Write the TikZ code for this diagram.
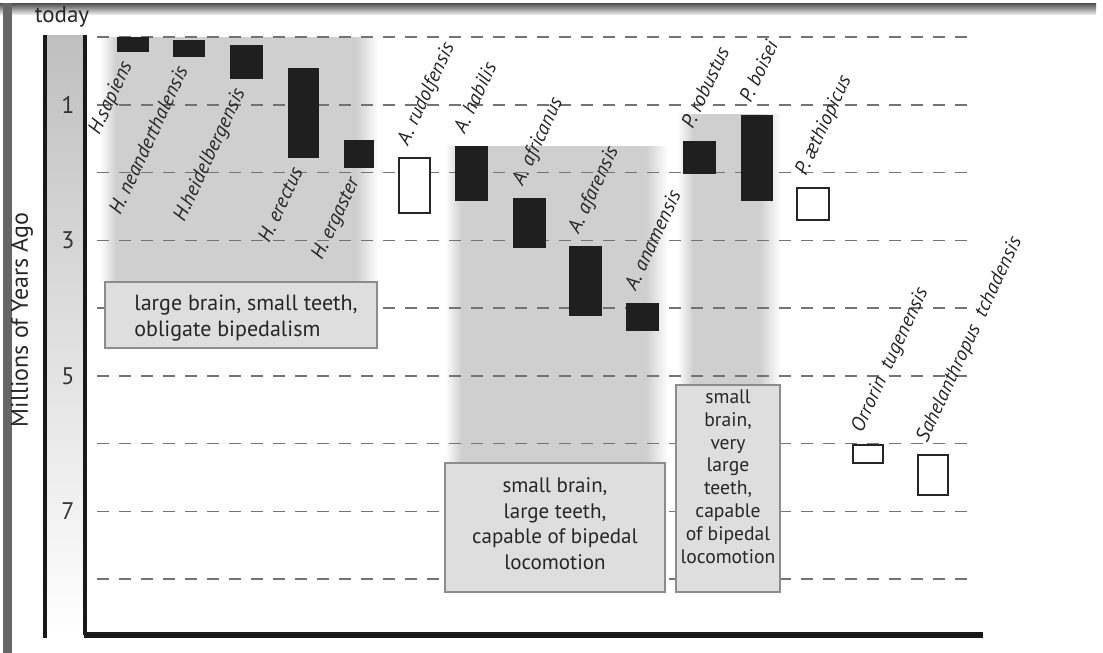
\documentclass[tikz,border=0pt]{standalone}
\usepackage{fontspec}
\setmainfont{PT Sans}
\usetikzlibrary{fit}

\colorlet{panelgray}{black!19}

\begin{document}
\begin{tikzpicture}
  [
  x=0.5pt, y=-0.5pt, line width=0.75pt,
  blackbar/.style={fill=black!88, draw=black!88, line width=0.4pt, inner sep=0pt},
  openbar/.style={fill=white, draw=black!85, line width=1.2pt, inner sep=0pt},
  splabel/.style={font=\fontsize{10}{12}\selectfont\itshape, text=black!85, rotate=65, inner sep=0pt},
  notebox/.style={draw=black!45, fill=black!13, line width=0.6pt, inner sep=0pt},
  notetext/.style={font=\fontsize{10.5}{12.8}\selectfont, text=black!85, align=center},
  myr/.style={draw=black!55, dash pattern=on 6pt off 5pt},
  axisline/.style={draw=black!90, line width=1.6pt},
  ticknum/.style={font=\fontsize{12}{13}\selectfont, text=black!80}
  ]

\useasboundingbox (0,0) rectangle (1103,653);

% frame
\shade[top color=black!70, bottom color=black!10] (0,3) rectangle (1096,14);
\fill[black!60] (3,3) rectangle (12,653);

% grey panels behind the groups
\foreach \l/\t/\r/\b in {100/37/378/282, 445/146/668/463, 677/114/781/385} {
  \shade[left color=white, right color=panelgray] (\l,\t) rectangle (\l+16,\b);
  \fill[panelgray] (\l+16,\t) rectangle (\r-22,\b);
  \shade[left color=panelgray, right color=white] (\r-22,\t) rectangle (\r,\b);
}

% time scale
\shade[top color=black!25, middle color=black!21, bottom color=white] (45,35) rectangle (85,637);
\draw[axisline] (45,35) -- (45,638);
\draw[axisline] (85,35) -- (85,635);
\draw[axisline, line width=2.6pt] (84,635) -- (983,635);

\foreach \t in {0,...,8}
  \draw[myr] (97,{37+67.75*\t}) -- (967,{37+67.75*\t});

\node[font=\fontsize{11.5}{12}\selectfont, text=black!85] (today) at (62,17) {today};
\foreach \n in {1,3,5,7}
  \node[ticknum] (tick\n) at (68,{37+67.75*\n}) {\n};
\node[rotate=90, font=\fontsize{12}{13}\selectfont, text=black!85] (ylabel) at (22,320) {Millions of Years Ago};

% note boxes
\node[notebox, fit={(105,282) (377,348)},
  label={[notetext, font=\fontsize{11}{12.8}\selectfont, align=left, xshift=2.5pt, yshift=-1.5pt]center:{large brain, small teeth,\\obligate bipedalism}}] (homonote) {};
\node[notebox, fit={(445,463) (665,592)},
  label={[notetext, yshift=2pt]center:{small brain,\\large teeth,\\capable of bipedal\\locomotion}}] (australnote) {};
\node[notebox, fit={(676,385) (780,592)},
  label={[notetext, font=\fontsize{9.8}{11.4}\selectfont, yshift=6pt]center:{small\\brain,\\very\\large\\teeth,\\capable\\of bipedal\\locomotion}}] (paranote) {};

% species ranges
\foreach \n/\l/\t/\r/\b in {sapiens/117/37/148/51, neanderthalensis/173/40/204/56,
    heidelbergensis/230/45/262/78, erectus/288/68/318/157, ergaster/344/140/373/167,
    habilis/455/146/487/200, africanus/513/198/545/247, afarensis/569/246/601/315,
    anamensis/626/303/658/330, robustus/683/141/715/173, boisei/741/115/772/200}
  \node[blackbar, fit={(\l,\t) (\r,\b)}] (\n) {};
\foreach \n/\l/\t/\r/\b in {rudolfensis/399/158/430/213, aethiopicus/797/188/829/220,
    orrorin/853/445/883/463, sahelanthropus/918/455/948/495}
  \node[openbar, fit={(\l,\t) (\r,\b)}] (\n) {};

% names below the Homo bars
\foreach \n/\s in {sapiens/H.sapiens, neanderthalensis/H. neanderthalensis,
    heidelbergensis/H.heidelbergensis, erectus/H. erectus, ergaster/H. ergaster}
  \node[splabel, anchor=base east] (\n-name) at ([xshift=8pt,yshift=-6.5pt]\n.south west) {\s};

% names above the other bars
\foreach \n/\s in {rudolfensis/A. rudolfensis, habilis/A. habilis, africanus/A. africanus,
    afarensis/A. afarensis, anamensis/A. anamensis, robustus/P. robustus, boisei/P. boisei,
    aethiopicus/P. æthiopicus, orrorin/Orrorin\ \ tugenensis,
    sahelanthropus/Sahelanthropus\ \ tchadensis}
  \node[splabel, anchor=base west] (\n-name) at ([xshift=5pt,yshift=5pt]\n.north west) {\s};

\end{tikzpicture}
\end{document}
